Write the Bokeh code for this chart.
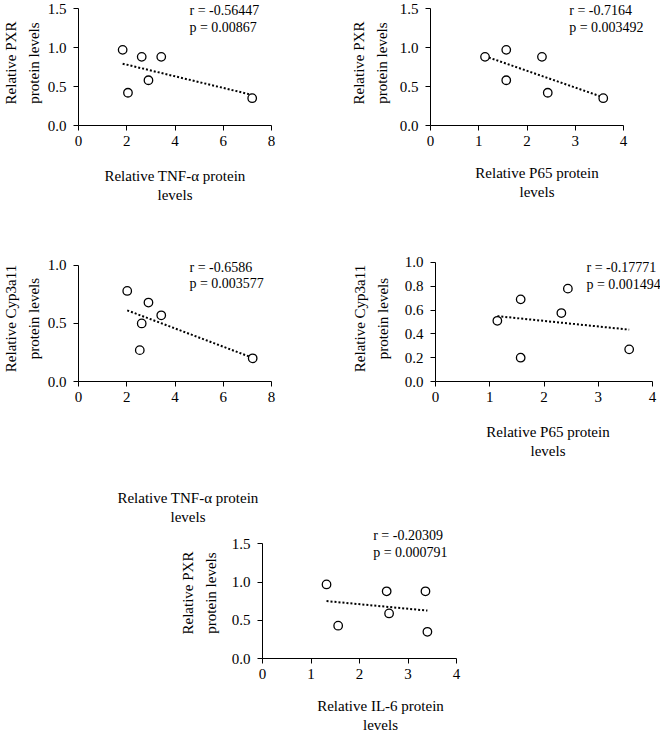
import numpy as np
from bokeh.plotting import figure
from bokeh.layouts import column, row
from bokeh.models import Range1d, FixedTicker, NumeralTickFormatter, Label
from bokeh.embed import file_html
from bokeh.resources import INLINE

# ---------------- data ----------------
# Panel A: TNF-alpha vs PXR
tnf_a = [1.83, 2.05, 2.62, 2.90, 3.43, 7.20]
pxr_a = [0.97, 0.42, 0.88, 0.58, 0.88, 0.35]
stats_a = ["r = -0.56447", "p = 0.00867"]
# Panel B: P65 vs PXR
p65_b = [1.13, 1.57, 1.57, 2.31, 2.43, 3.58]
pxr_b = [0.88, 0.97, 0.58, 0.88, 0.42, 0.35]
stats_b = ["r = -0.7164", "p = 0.003492"]
# Panel C: TNF-alpha vs Cyp3a11
tnf_c = [2.02, 2.54, 2.62, 2.90, 3.43, 7.22]
cyp_c = [0.78, 0.27, 0.50, 0.68, 0.57, 0.20]
stats_c = ["r = -0.6586", "p = 0.003577"]
# Panel D: P65 vs Cyp3a11
p65_d = [1.14, 1.57, 1.57, 2.32, 2.44, 3.57]
cyp_d = [0.51, 0.69, 0.20, 0.575, 0.78, 0.27]
stats_d = ["r = -0.17771", "p = 0.001494"]
# Panel E: IL-6 vs PXR
il6_e = [1.32, 1.56, 2.56, 2.61, 3.36, 3.40]
pxr_e = [0.97, 0.43, 0.88, 0.59, 0.88, 0.35]
stats_e = ["r = -0.20309", "p = 0.000791"]

ticks_x8 = [0, 2, 4, 6, 8]
ticks_x4 = [0, 1, 2, 3, 4]
ticks_y15 = [0.0, 0.5, 1.0, 1.5]
ticks_y10 = [0.0, 0.5, 1.0]
ticks_y10b = [0.0, 0.2, 0.4, 0.6, 0.8, 1.0]

FONT = "Liberation Serif"


def panel(x, y, stats, xlabel, ylabel, xmax, xticks, ymax, yticks,
          width, height, bl, br, bt, bb, xend, yend, text_pos,
          xstand, ystand, ylh):
    p = figure(width=width, height=height, output_backend="svg",
               toolbar_location=None,
               x_range=Range1d(0, xend), y_range=Range1d(0, yend),
               min_border_left=bl, min_border_right=br,
               min_border_top=bt, min_border_bottom=bb)
    p.outline_line_color = None
    p.xgrid.visible = False
    p.ygrid.visible = False
    p.background_fill_color = "white"
    p.border_fill_color = "white"

    for ax, ticks, fmt, top in ((p.xaxis[0], xticks, "0", xmax),
                                (p.yaxis[0], yticks, "0.0", ymax)):
        ax.ticker = FixedTicker(ticks=ticks)
        ax.formatter = NumeralTickFormatter(format=fmt)
        ax.bounds = (0, top)
        ax.axis_line_color = "black"
        ax.axis_line_width = 1
        ax.major_tick_line_color = "black"
        ax.major_tick_in = 0
        ax.major_tick_out = 5
        ax.minor_tick_line_color = None
        ax.major_label_text_font = FONT
        ax.major_label_text_font_size = "15px"
        ax.major_label_text_color = "black"
        ax.axis_label_text_font = FONT
        ax.axis_label_text_font_size = "15px"
        ax.axis_label_text_font_style = "normal"
        ax.axis_label_text_color = "black"

    p.xaxis[0].axis_label = xlabel
    p.xaxis[0].major_label_standoff = 5
    p.xaxis[0].axis_label_standoff = xstand
    p.xaxis[0].axis_label_text_line_height = 1.2
    p.yaxis[0].axis_label = ylabel
    p.yaxis[0].major_label_standoff = 7
    p.yaxis[0].axis_label_standoff = ystand
    p.yaxis[0].axis_label_text_line_height = ylh

    # linear trend line (least squares), drawn over the data's x extent
    slope, icpt = np.polyfit(np.array(x), np.array(y), 1)
    xs = [min(x), max(x)]
    ys = [slope * v + icpt for v in xs]
    p.line(xs, ys, line_color="black", line_width=2, line_dash="2 2")

    p.scatter(x, y, marker="circle", size=8.5, fill_color="white",
              line_color="black", line_width=1.3)

    tx, ty1, ty2 = text_pos
    for txt, ty in ((stats[0], ty1), (stats[1], ty2)):
        p.add_layout(Label(x=tx, y=ty, text=txt, text_font=FONT,
                           text_font_size="14px", text_color="black",
                           text_align="left", text_baseline="middle"))
    return p


p1 = panel(tnf_a, pxr_a, stats_a, "Relative TNF-\u03b1 protein\nlevels",
           "Relative PXR\nprotein levels", 8, ticks_x8, 1.5, ticks_y15,
           280, 250, 78, 9, 0, 125, 8.0, 1.5 * 125 / 117,
           (4.60, 1.474, 1.256), 19, 3, 1.4)
p2 = panel(p65_b, pxr_b, stats_b, "Relative P65 protein\nlevels",
           "Relative PXR\nprotein levels", 4, ticks_x4, 1.5, ticks_y15,
           380, 250, 150, 17, 0, 125, 4 * 213 / 193, 1.5 * 125 / 117,
           (2.875, 1.474, 1.256), 16, 7, 1.45)
p3 = panel(tnf_c, cyp_c, stats_c, "Relative TNF-\u03b1 protein\nlevels",
           "Relative Cyp3a11\nprotein levels", 8, ticks_x8, 1.0, ticks_y10,
           300, 277, 78, 3, 5, 145, 219 / 24.125, 127 / 117,
           (4.60, 0.985, 0.844), 85, 3, 1.4)
p4 = panel(p65_d, cyp_d, stats_d, "Relative P65 protein\nlevels",
           "Relative Cyp3a11\nprotein levels", 4, ticks_x4, 1.0, ticks_y10b,
           360, 277, 135, 0, 5, 145, 4 * 225 / 217, 127 / 120,
           (2.783, 0.961, 0.814), 19, 11, 1.45)
p5 = panel(il6_e, pxr_e, stats_e, "Relative IL-6 protein\nlevels",
           "Relative PXR\nprotein levels", 4, ticks_x4, 1.5, ticks_y15,
           508, 208, 262, 10, 0, 73, 236 / 48.5, 1.5 * 135 / 118,
           (2.282, 1.614, 1.394), 16, 10, 1.45)

layout = column(row(p1, p2), row(p3, p4), row(p5))

open("out.html", "w").write(file_html(layout, INLINE))
